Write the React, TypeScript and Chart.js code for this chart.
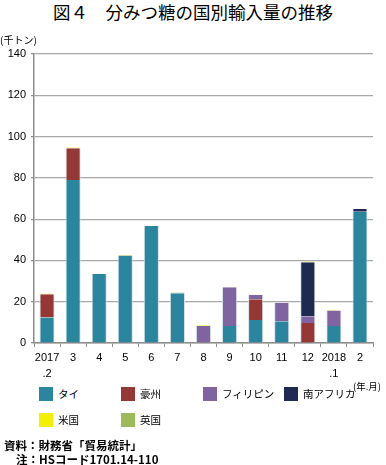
import React, { useEffect, useRef } from "react";
import { Chart, registerables } from "chart.js";

Chart.register(...registerables);

const categories: string[][] = [
  ["2017", ".2"], ["3"], ["4"], ["5"], ["6"], ["7"], ["8"], ["9"], ["10"], ["11"], ["12"], ["2018", ".1"], ["2"],
];
const thai = [12.3, 79, 33.4, 42.1, 56.7, 24.1, 0, 8.2, 11.2, 10.5, 0, 8.2, 63.6];
const australia = [11.3, 15.3, 0, 0, 0, 0, 0, 0, 10, 0, 9.7, 0, 0];
const philippines = [0, 0, 0, 0, 0, 0, 8.2, 18.8, 2.1, 9, 3.2, 7.5, 0];
const southAfrica = [0, 0, 0, 0, 0, 0, 0, 0, 0, 0, 26.2, 0, 1.3];
const usa = [0.4, 0.4, 0, 0, 0, 0, 0.4, 0, 0, 0, 0.4, 0.4, 0];
const uk = [0, 0, 0, 0.4, 0, 0.4, 0, 0, 0, 0, 0, 0, 0];
const yTicks = [0, 20, 40, 60, 80, 100, 120, 140];

const seriesNames = ["タイ", "豪州", "フィリピン", "南アフリカ", "米国", "英国"];
const seriesColors = ["#2a859e", "#953735", "#8064a2", "#1f2a52", "#f0f000", "#9bbb59"];

const W = 386;
const H = 465;
const CANVAS_H = 380;
const LABEL_FONT = "'Liberation Sans', Arial, sans-serif";
const JP_FONT = "'Noto Sans CJK JP', 'Noto Sans', sans-serif";

export default function App() {
  const ref = useRef<HTMLCanvasElement | null>(null);

  useEffect(() => {
    if (!ref.current) return;
    const allSeries = [thai, australia, philippines, southAfrica, usa, uk];
    const chart = new Chart(ref.current, {
      type: "bar",
      data: {
        labels: categories,
        datasets: allSeries.map((d, i) => ({
          label: seriesNames[i],
          data: d,
          backgroundColor: seriesColors[i],
          borderColor: "#d3e0ea",
          borderWidth: { left: 1, right: 1, top: 0, bottom: 0 },
          borderSkipped: false,
          barPercentage: 0.58,
          categoryPercentage: 1,
        })),
      },
      options: {
        animation: false,
        responsive: false,
        maintainAspectRatio: false,
        layout: { padding: { top: 54, right: 13, left: 0, bottom: 0 } },
        plugins: { legend: { display: false }, tooltip: { enabled: false } },
        scales: {
          x: {
            stacked: true,
            offset: true,
            afterFit: (s: any) => { s.height = CANVAS_H - 343; },
            grid: {
              offset: true,
              drawOnChartArea: false,
              drawTicks: true,
              tickLength: 4,
              color: "#8c8c8c",
            },
            border: { color: "#8c8c8c", width: 1.5 },
            ticks: {
              color: "#000",
              padding: 3,
              maxRotation: 0,
              autoSkip: false,
              font: { family: LABEL_FONT, size: 11, lineHeight: 1.45 },
            },
          },
          y: {
            stacked: true,
            min: 0,
            max: 140,
            afterFit: (s: any) => { s.width = 34; },
            afterBuildTicks: (s: any) => { s.ticks = yTicks.map((v) => ({ value: v })); },
            grid: {
              color: "#a8a8a8",
              lineWidth: 1.2,
              drawTicks: true,
              tickLength: 3,
              tickColor: "#8c8c8c",
            },
            border: { color: "#8c8c8c", width: 1.5 },
            ticks: {
              color: "#000",
              padding: 5,
              font: { family: LABEL_FONT, size: 11 },
            },
          },
        },
      },
    } as any);
    return () => chart.destroy();
  }, []);

  const legendPos = [
    [39, 387], [121, 387], [203, 387], [284, 387],
    [39, 413], [121, 413],
  ];

  return (
    <div style={{ position: "absolute", left: 0, top: 0, width: W, height: H, background: "#fff", overflow: "hidden" }}>
      <div style={{ position: "absolute", left: 0, top: 0, width: W, textAlign: "center", fontFamily: JP_FONT, fontSize: 17.5, fontWeight: 400, lineHeight: "24px", color: "#000" }}>
        図４　分みつ糖の国別輸入量の推移
      </div>
      <canvas ref={ref} width={W} height={CANVAS_H} style={{ position: "absolute", left: 0, top: 0, width: W, height: CANVAS_H }} />
      <div style={{ position: "absolute", left: 0, top: 33, fontFamily: JP_FONT, fontSize: 10, lineHeight: "14px", color: "#000" }}>
        (千トン)
      </div>
      {seriesNames.map((n, i) => (
        <div key={n} style={{ position: "absolute", left: legendPos[i][0], top: legendPos[i][1], height: 14, display: "flex", alignItems: "center" }}>
          <div style={{ width: 14, height: 14, background: seriesColors[i] }} />
          <span style={{ marginLeft: 5, fontFamily: JP_FONT, fontSize: 10.5, lineHeight: "14px", color: "#000", whiteSpace: "nowrap" }}>{n}</span>
        </div>
      ))}
      <div style={{ position: "absolute", left: 353, top: 380, fontFamily: JP_FONT, fontSize: 9.5, lineHeight: "13px", color: "#000", whiteSpace: "nowrap" }}>
        (年.月)
      </div>
      <div style={{ position: "absolute", left: 4, top: 438, fontFamily: JP_FONT, fontSize: 11.5, fontWeight: 700, lineHeight: "14px", color: "#000", whiteSpace: "nowrap" }}>
        資料：財務省「貿易統計」
      </div>
      <div style={{ position: "absolute", left: 16, top: 452, fontFamily: JP_FONT, fontSize: 11.5, fontWeight: 700, lineHeight: "14px", color: "#000", whiteSpace: "nowrap" }}>
        注：HSコード1701.14-110
      </div>
    </div>
  );
}
